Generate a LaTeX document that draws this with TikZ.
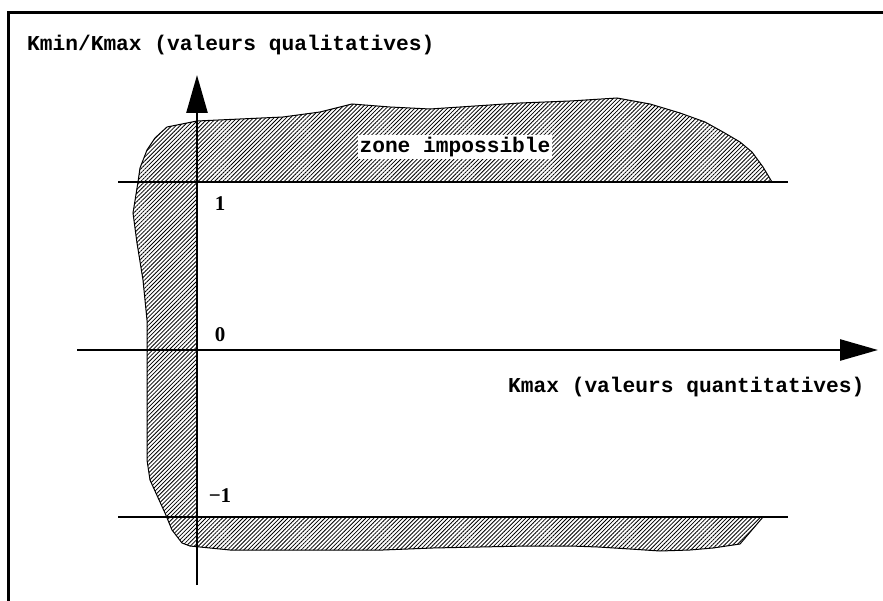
\documentclass[tikz,border=0pt]{standalone}
\usepackage{fontspec}
\setmainfont{Liberation Serif}
\newfontfamily\monob{Liberation Mono}
\usetikzlibrary{patterns.meta,arrows.meta}
\tikzset{
  axisline/.style={line width=2.6pt,-{Triangle[length=38pt,width=21pt]}},
  limline/.style={line width=2.6pt},
  frameline/.style={line width=3pt},
  zone/.style={draw=black,line width=1pt,pattern={Lines[angle=45,distance=2.9pt,line width=0.8pt]}},
  monolabel/.style={font=\monob\bfseries\fontsize{21.2}{25}\selectfont,inner sep=1pt},
  numlabel/.style={font=\bfseries\fontsize{21}{25}\selectfont,inner sep=0pt}
}
\begin{document}
\begin{tikzpicture}[x=1pt,y=-1pt]
\useasboundingbox (0,0) rectangle (883,601);
% frame (only top and left visible)
\coordinate (fbl) at (8,601);
\coordinate (ftl) at (8,13);
\coordinate (ftr) at (883,13);
\draw[frameline] (fbl) -- (ftl) -- (ftr);
% hatched impossible zone
\draw[zone] (167,127) -- (197,121) -- (283,117) -- (320,112) -- (352,104) -- (390,107) -- (430,109)
  -- (475,106) -- (520,103) -- (570,101) -- (617,98) -- (650,104) -- (680,113) -- (705,122) -- (723,132)
  -- (740,142) -- (752,152) -- (763,167) -- (772,182) -- (197,182) -- (197,517) -- (763,517)
  -- (740,544) -- (713,548) -- (690,550) -- (660,551) -- (630,549) -- (598,547) -- (570,546)
  -- (528,546) -- (480,547) -- (433,548) -- (383,550) -- (230,550) -- (190,546) -- (182,543)
  -- (172,530) -- (165,513) -- (150,480) -- (147,460) -- (147,380) -- (147,320) -- (143,280)
  -- (137,243) -- (133,213) -- (138,182) -- (140,168) -- (147,150) -- (155,138) -- cycle;
% limit lines
\coordinate (u1) at (118,182); \coordinate (u2) at (788,182);
\coordinate (l1) at (118,517); \coordinate (l2) at (788,517);
\draw[limline] (u1) -- (u2);
\draw[limline] (l1) -- (l2);
% axes
\coordinate (xs) at (77,350); \coordinate (xe) at (878,350);
\coordinate (ys) at (197,585); \coordinate (ye) at (197,75);
\draw[axisline] (xs) -- (xe);
\draw[axisline] (ys) -- (ye);
% labels
\node[monolabel,anchor=west] (ylab) at (26,45) {Kmin/Kmax (valeurs qualitatives)};
\node[monolabel,anchor=west] (xlab) at (507,387) {Kmax (valeurs quantitatives)};
\node[monolabel,fill=white,inner sep=2pt] (zlab) at (455,147) {zone impossible};
\node[numlabel] (n1) at (220,204) {1};
\node[numlabel] (n0) at (220,335) {0};
\node[numlabel] (nm1) at (220,496) {−1};
\end{tikzpicture}
\end{document}
